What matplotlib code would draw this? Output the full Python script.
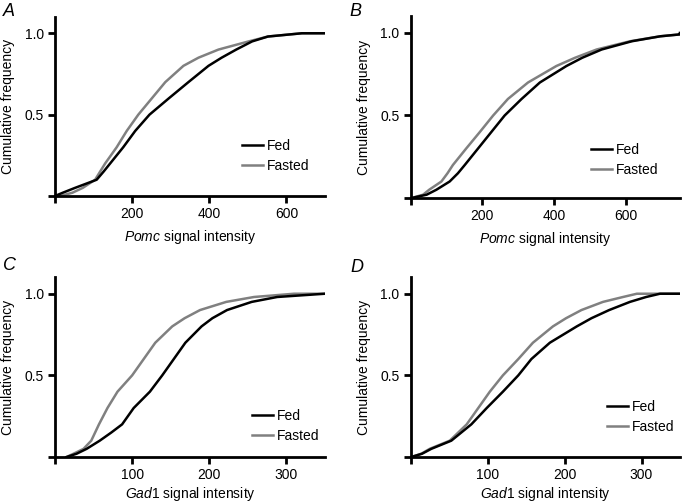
import matplotlib
matplotlib.use("Agg")
import matplotlib.pyplot as plt
import numpy as np

plt.rcParams['font.family'] = ['Liberation Sans', 'DejaVu Sans']
plt.rcParams['mathtext.fontset'] = 'custom'
plt.rcParams['mathtext.it'] = 'Liberation Sans:italic'
plt.rcParams['mathtext.rm'] = 'Liberation Sans'

# cumulative frequency levels (shared)
freq = [0.0, 0.02, 0.05, 0.10, 0.15, 0.20, 0.30, 0.40, 0.50, 0.60, 0.70, 0.80, 0.85, 0.90, 0.95, 0.98, 1.0]

# Panel A: Pomc signal intensity
a_fed =    [0, 20, 52, 108, 126, 143, 177, 208, 245, 295, 346, 398, 432, 470, 511, 552, 640]
a_fasted = [13, 45, 72, 104, 117, 130, 160, 186, 216, 251, 286, 333, 372, 424, 502, 552, 640]
# Panel B: Pomc signal intensity
b_fed =    [3, 45, 72, 109, 132, 151, 188, 225, 262, 309, 360, 434, 478, 532, 616, 695, 790]
b_fasted = [3, 35, 52, 86, 103, 118, 155, 193, 230, 271, 327, 406, 458, 518, 611, 695, 790]
# Panel C: Gad1 signal intensity
c_fed =    [15, 28, 41, 58, 73, 87, 102, 123, 139, 154, 169, 190, 204, 223, 255, 288, 350]
c_fasted = [15, 24, 37, 47, 52, 57, 68, 81, 100, 115, 130, 152, 168, 188, 222, 258, 310]
# Panel D: Gad1 signal intensity
d_fed =    [1, 15, 27, 53, 66, 79, 99, 120, 140, 157, 181, 216, 235, 258, 285, 306, 324]
d_fasted = [1, 14, 25, 51, 62, 73, 88, 103, 120, 140, 159, 185, 202, 222, 250, 276, 294]

W, H = 683, 503
FS = 10
fig = plt.figure(figsize=(W / 100, H / 100), dpi=100)

def frac_rect(left, right, bottom, top):
    return [left / W, 1 - bottom / H, (right - left) / W, (bottom - top) / H]

panels = [
    dict(rect=frac_rect(55, 325, 196, 17), fed=a_fed, fas=a_fasted, xmax=700,
         xticks=[0, 200, 400, 600], gene='Pomc', letter='A', lpos=(9, 12),
         leg=(0.693, 0.318), xl=-0.229),
    dict(rect=frac_rect(410.5, 680, 198, 16.5), fed=b_fed, fas=b_fasted, xmax=750,
         xticks=[0, 200, 400, 600], gene='Pomc', letter='B', lpos=(355, 12),
         leg=(0.67, 0.303), xl=-0.225),
    dict(rect=frac_rect(55, 325, 457, 277.4), fed=c_fed, fas=c_fasted, xmax=350,
         xticks=[0, 100, 200, 300], gene='Gad1', letter='C', lpos=(9, 265),
         leg=(0.73, 0.267), xl=-0.205),
    dict(rect=frac_rect(410.5, 680, 457, 277.4), fed=d_fed, fas=d_fasted, xmax=350,
         xticks=[0, 100, 200, 300], gene='Gad1', letter='D', lpos=(357, 267),
         leg=(0.729, 0.317), xl=-0.205),
]

for p in panels:
    ax = fig.add_axes(p['rect'])
    xf = list(p['fed']) + [p['xmax']]
    yf = freq + [1.0]
    xs = list(p['fas']) + [p['xmax']]
    ax.plot(xf, yf, color='black', lw=1.8, label='Fed', zorder=3)
    ax.plot(xs, yf, color='#808080', lw=1.8, label='Fasted', zorder=2)
    ax.set_xlim(0, p['xmax'])
    ax.set_ylim(0, 1.1)
    ax.spines['top'].set_visible(False)
    ax.spines['right'].set_visible(False)
    for s in ('left', 'bottom'):
        ax.spines[s].set_linewidth(2.0)
    ax.set_xticks(p['xticks'])
    ax.set_xticklabels([''] + [str(t) for t in p['xticks'][1:]])
    ax.set_yticks([0, 0.5, 1.0])
    ax.set_yticklabels(['', '0.5', '1.0'])
    ax.tick_params(direction='out', length=5, width=2.0, labelsize=FS, pad=3)
    ax.set_xlabel('')
    ax.set_ylabel('Cumulative frequency', fontsize=FS)
    ax.yaxis.set_label_coords(-0.148, 0.5)
    ax.text(0.5, p['xl'], '$\\mathit{' + p['gene'] + '}$ signal intensity', transform=ax.transAxes,
            ha='center', va='center', fontsize=FS)
    ax.legend(loc='upper left', bbox_to_anchor=p['leg'], frameon=False,
              fontsize=FS, handlelength=1.5, handletextpad=0.3,
              labelspacing=0.45, borderpad=0, borderaxespad=0)
    fig.text(p['lpos'][0] / W, 1 - p['lpos'][1] / H, p['letter'], fontsize=13,
             style='italic', ha='center', va='center')

fig.savefig('out.png', dpi=100)
